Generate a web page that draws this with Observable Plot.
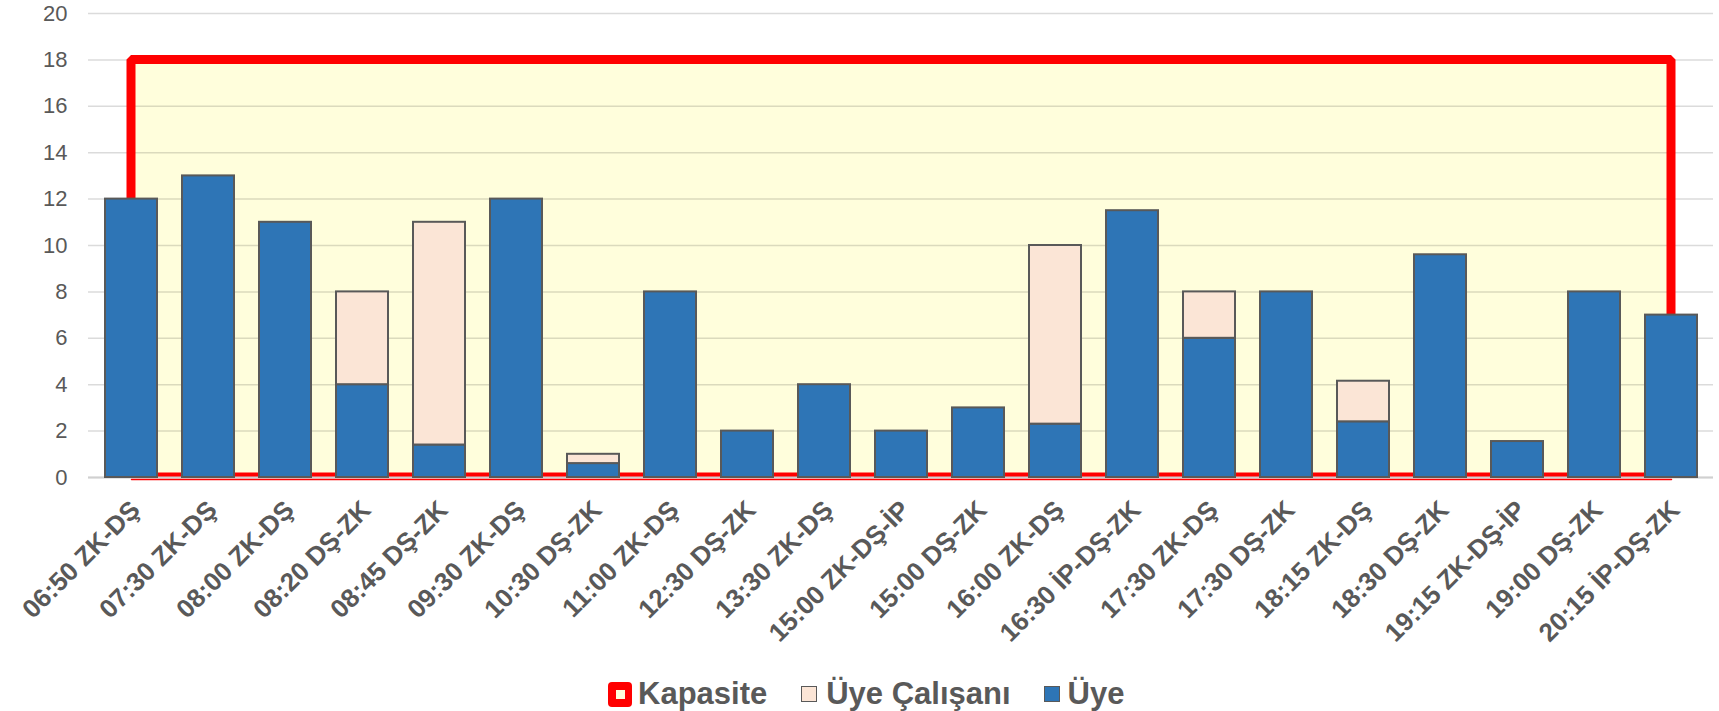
<!DOCTYPE html>
<html>
<head>
<meta charset="utf-8">
<script src="https://cdn.jsdelivr.net/npm/d3@7"></script>
<script src="https://cdn.jsdelivr.net/npm/@observablehq/plot@0.6"></script>
<style>
  html, body { margin: 0; padding: 0; background: #fff; }
  body { width: 1719px; height: 711px; overflow: hidden; font-family: "Liberation Sans", Arial, sans-serif; position: relative; }
  #legend { position: absolute; left: 0; top: 674px; height: 40px; display: flex; align-items: center; padding-left: 608px; box-sizing: border-box;
    font-weight: bold; font-size: 31px; color: #595959; }
  .item { display: flex; align-items: center; }
  .sw { box-sizing: border-box; }
</style>
</head>
<body>
<div id="chart"></div>
<div id="legend"></div>
<script>
const categories = ["06:50 ZK-DŞ","07:30 ZK-DŞ","08:00 ZK-DŞ","08:20 DŞ-ZK","08:45 DŞ-ZK","09:30 ZK-DŞ","10:30 DŞ-ZK","11:00 ZK-DŞ","12:30 DŞ-ZK","13:30 ZK-DŞ","15:00 ZK-DŞ-İP","15:00 DŞ-ZK","16:00 ZK-DŞ","16:30 İP-DŞ-ZK","17:30 ZK-DŞ","17:30 DŞ-ZK","18:15 ZK-DŞ","18:30 DŞ-ZK","19:15 ZK-DŞ-İP","19:00 DŞ-ZK","20:15 İP-DŞ-ZK"];
const uye = [12, 13, 11, 4, 1.4, 12, 0.6, 8, 2, 4, 2, 3, 2.3, 11.5, 6, 8, 2.4, 9.6, 1.55, 8, 7];
const uyeCalisani = [0, 0, 0, 4, 9.6, 0, 0.4, 0, 0, 0, 0, 0, 7.7, 0, 2, 0, 1.75, 0, 0, 0, 0];
const kapasite = [18, 18, 18, 18, 18, 18, 18, 18, 18, 18, 18, 18, 18, 18, 18, 18, 18, 18, 18, 18, 18];
const yTicks = [0, 2, 4, 6, 8, 10, 12, 14, 16, 18, 20];
const seriesNames = ["Kapasite", "Üye Çalışanı", "Üye"];

const capData = categories.map((c, i) => ({cat: c, v: kapasite[i]}));
const barData = [];
categories.forEach((c, i) => {
  barData.push({cat: c, s: "Üye", v: uye[i], o: 0});
  if (uyeCalisani[i] > 0) barData.push({cat: c, s: "Üye Çalışanı", v: uyeCalisani[i], o: 1});
});

const chart = Plot.plot({
  width: 1719,
  height: 655,
  marginLeft: 88,
  marginRight: 6,
  marginTop: 13,
  marginBottom: 178,
  style: {fontFamily: "Liberation Sans, Arial, sans-serif", background: "#fff"},
  x: {domain: categories, paddingInner: 0.33, paddingOuter: 0.165, label: null, axis: null},
  y: {domain: [0, 20], label: null, axis: null},
  color: {domain: ["Üye", "Üye Çalışanı"], range: ["#2E75B6", "#FBE5D6"]},
  marks: [
    Plot.areaY(capData, {x: "cat", y: "v", fill: "#FFFEDC", clip: true}),
    Plot.gridY(yTicks, {stroke: "#000", strokeOpacity: 0.14, strokeWidth: 1.5}),
    Plot.areaY(capData, {x: "cat", y: "v", fill: "none", stroke: "#FF0000", strokeWidth: 9, strokeLinejoin: "miter", clip: true}),
    Plot.ruleY([0], {stroke: "#D0D0D0", strokeWidth: 2}),
    Plot.lineY(capData, {x: "cat", y: () => 0, stroke: "#FF0000", strokeWidth: 1.5, dy: 2}),
    Plot.barY(barData, Plot.stackY({x: "cat", y: "v", fill: "s", order: "o", stroke: "#595959", strokeWidth: 2})),
    Plot.text(yTicks, {y: d => d, text: d => String(d), frameAnchor: "left", textAnchor: "end", dx: -21, fontSize: 22, fill: "#595959"}),
    Plot.text(categories, {x: d => d, text: d => d, frameAnchor: "bottom", textAnchor: "end", lineAnchor: "middle", rotate: -45, dx: 4, dy: 28, fontSize: 26, fontWeight: "bold", fill: "#595959"})
  ]
});
document.getElementById("chart").appendChild(chart);

const legend = document.getElementById("legend");
const swatches = {
  "Kapasite": '<div class="sw" style="width:24px;height:25px;background:#FF0000;border-radius:4px;display:flex;align-items:center;justify-content:center;margin-right:6px;"><div style="width:9px;height:9px;background:#FFFEDC;"></div></div>',
  "Üye Çalışanı": '<div class="sw" style="width:16px;height:16px;background:#FBE5D6;border:1.5px solid #595959;margin-left:34px;margin-right:9px;"></div>',
  "Üye": '<div class="sw" style="width:16px;height:16px;background:#2E75B6;border:1.5px solid #595959;margin-left:33px;margin-right:8px;"></div>'
};
seriesNames.forEach(n => {
  const d = document.createElement("div");
  d.className = "item";
  d.innerHTML = swatches[n] + "<span>" + n + "</span>";
  legend.appendChild(d);
});
</script>
</body>
</html>
